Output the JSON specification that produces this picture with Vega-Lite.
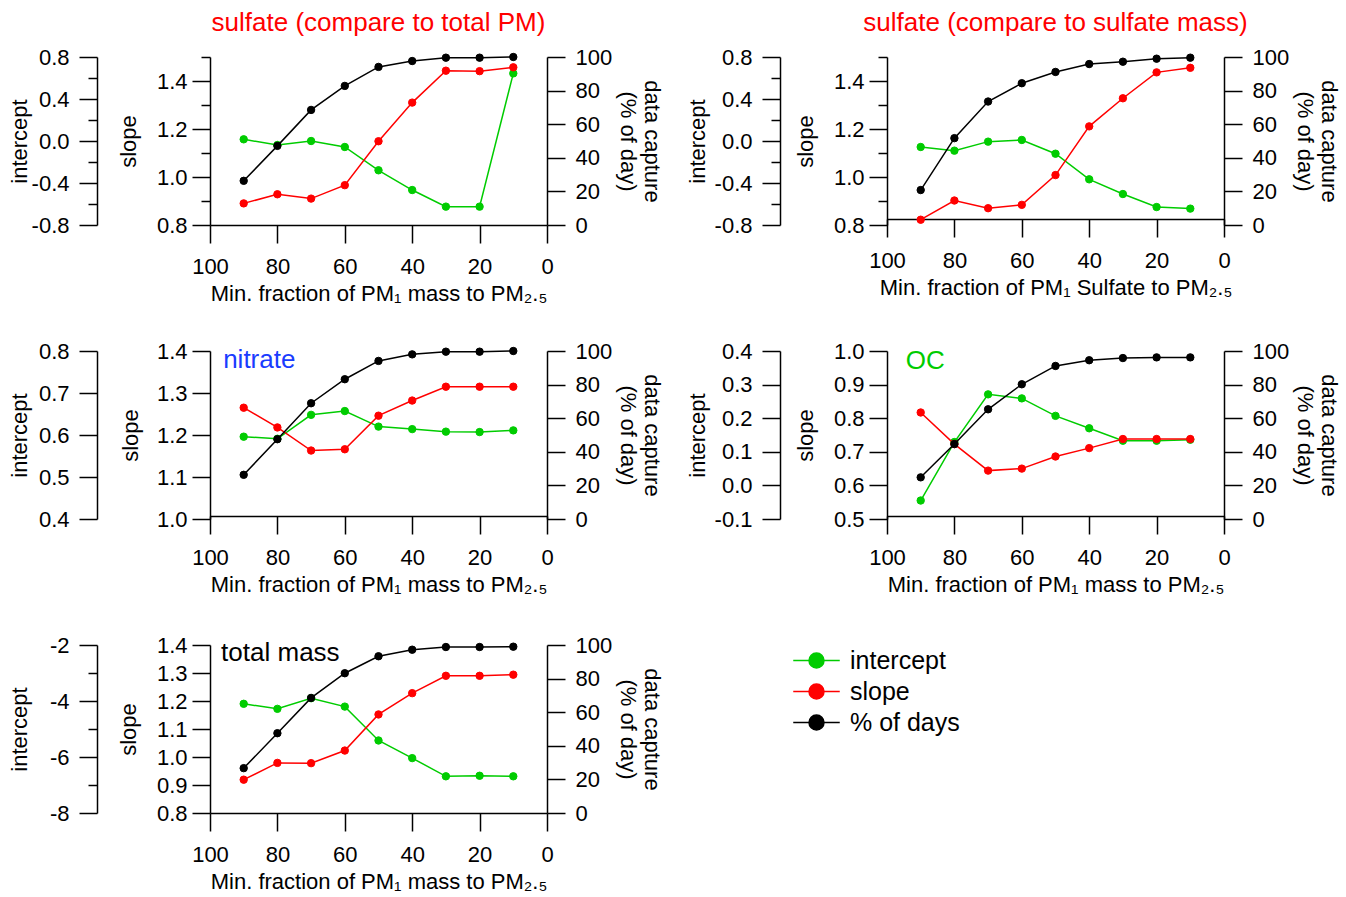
{
 "$schema": "https://vega.github.io/schema/vega-lite/v6.json",
 "background": "white",
 "padding": {"left": 8, "top": 10, "right": 5, "bottom": 5},
 "data": {"values": [
  {"p":"s1","x":90,"intercept":0.016,"slope":0.890,"days":26.3},
  {"p":"s1","x":80,"intercept":-0.038,"slope":0.928,"days":47.1},
  {"p":"s1","x":70,"intercept":0.0,"slope":0.910,"days":68.5},
  {"p":"s1","x":60,"intercept":-0.057,"slope":0.966,"days":82.8},
  {"p":"s1","x":50,"intercept":-0.279,"slope":1.149,"days":94.1},
  {"p":"s1","x":40,"intercept":-0.467,"slope":1.310,"days":97.6},
  {"p":"s1","x":30,"intercept":-0.625,"slope":1.443,"days":99.6},
  {"p":"s1","x":20,"intercept":-0.625,"slope":1.441,"days":99.6},
  {"p":"s1","x":10,"intercept":0.644,"slope":1.457,"days":100},
  {"p":"s2","x":90,"intercept":-0.057,"slope":0.822,"days":20.8},
  {"p":"s2","x":80,"intercept":-0.092,"slope":0.902,"days":51.7},
  {"p":"s2","x":70,"intercept":-0.006,"slope":0.870,"days":73.5},
  {"p":"s2","x":60,"intercept":0.010,"slope":0.884,"days":84.4},
  {"p":"s2","x":50,"intercept":-0.121,"slope":1.008,"days":91.1},
  {"p":"s2","x":40,"intercept":-0.365,"slope":1.211,"days":95.8},
  {"p":"s2","x":30,"intercept":-0.505,"slope":1.328,"days":97.2},
  {"p":"s2","x":20,"intercept":-0.629,"slope":1.436,"days":99.0},
  {"p":"s2","x":10,"intercept":-0.644,"slope":1.455,"days":99.6},
  {"p":"n","x":90,"intercept":0.596,"slope":1.265,"days":26.3},
  {"p":"n","x":80,"intercept":0.591,"slope":1.218,"days":47.5},
  {"p":"n","x":70,"intercept":0.648,"slope":1.163,"days":68.9},
  {"p":"n","x":60,"intercept":0.657,"slope":1.166,"days":83.2},
  {"p":"n","x":50,"intercept":0.620,"slope":1.246,"days":94.1},
  {"p":"n","x":40,"intercept":0.614,"slope":1.282,"days":98.0},
  {"p":"n","x":30,"intercept":0.608,"slope":1.315,"days":99.6},
  {"p":"n","x":20,"intercept":0.607,"slope":1.315,"days":99.6},
  {"p":"n","x":10,"intercept":0.611,"slope":1.315,"days":100},
  {"p":"oc","x":90,"intercept":-0.045,"slope":0.817,"days":24.8},
  {"p":"oc","x":80,"intercept":0.129,"slope":0.723,"days":44.6},
  {"p":"oc","x":70,"intercept":0.271,"slope":0.644,"days":65.3},
  {"p":"oc","x":60,"intercept":0.259,"slope":0.650,"days":80.2},
  {"p":"oc","x":50,"intercept":0.207,"slope":0.686,"days":91.1},
  {"p":"oc","x":40,"intercept":0.170,"slope":0.711,"days":94.5},
  {"p":"oc","x":30,"intercept":0.133,"slope":0.738,"days":95.8},
  {"p":"oc","x":20,"intercept":0.133,"slope":0.738,"days":96.2},
  {"p":"oc","x":10,"intercept":0.136,"slope":0.738,"days":96.2},
  {"p":"tm","x":90,"intercept":-4.10,"slope":0.919,"days":26.7},
  {"p":"tm","x":80,"intercept":-4.28,"slope":0.979,"days":47.5},
  {"p":"tm","x":70,"intercept":-3.90,"slope":0.978,"days":68.5},
  {"p":"tm","x":60,"intercept":-4.20,"slope":1.023,"days":83.2},
  {"p":"tm","x":50,"intercept":-5.41,"slope":1.152,"days":93.3},
  {"p":"tm","x":40,"intercept":-6.04,"slope":1.228,"days":97.2},
  {"p":"tm","x":30,"intercept":-6.69,"slope":1.290,"days":98.8},
  {"p":"tm","x":20,"intercept":-6.67,"slope":1.290,"days":98.8},
  {"p":"tm","x":10,"intercept":-6.69,"slope":1.294,"days":99.0}
 ]},
 "columns": 2,
 "spacing": {"row": 126, "column": 340},
 "bounds": "flush",
 "concat": [
   {"width": 337, "height": 168,
    "transform": [{"filter": "datum.p == 's1'"}],
    "title": {"text": "sulfate (compare to total PM)", "color": "#ff0000", "frame": "group", "anchor": "middle", "offset": 10},
    "encoding": {"x": {"field": "x", "type": "quantitative", "scale": {"domain": [0, 100], "reverse": true, "nice": false, "zero": false}, "axis": {"values": [0,20,40,60,80,100], "format": "d", "labelFlush": false, "tickSize": 18, "labelPadding": 13, "title": "Min. fraction of PM₁ mass to PM₂.₅", "titlePadding": 6, "offset": 0}}},
    "layer": [
     {"encoding": {"y": {"field": "intercept", "type": "quantitative", "scale": {"domain": [-0.8, 0.8], "nice": false, "zero": false}, "axis": {"orient": "left", "offset": 113, "values": [-0.8,-0.6,-0.4,-0.2,0,0.2,0.4,0.6,0.8], "format": ".1f", "labelExpr": "abs(round(datum.value*10)) % 4 == 0 ? replace(datum.label, '−', '-') : ''", "tickSize": {"condition": {"test": "abs(round(datum.value*10)) % 4 != 0", "value": 9}, "value": 18}, "labelPadding": 10, "title": "intercept", "titlePadding": 0}}},
      "layer": [
       {"mark": {"type": "line", "strokeWidth": 1.5}, "encoding": {"stroke": {"datum": "intercept", "type": "nominal", "scale": {"domain": ["intercept","slope","days"], "range": ["#00cc00","#ff0000","#000000"]}, "legend": {"title": null, "orient": "none", "legendX": 594, "legendY": 591, "symbolType": "M-3.1,0L-1,0M1,0L3.1,0M-1,0A1,1,0,1,1,1,0A1,1,0,1,1,-1,0Z", "symbolSize": 225, "symbolStrokeWidth": 1.5, "symbolOpacity": 1, "labelFontSize": 25, "labelColor": "#000000", "labelOffset": 21, "rowPadding": 5, "padding": 0, "labelExpr": "datum.label == 'days' ? '% of days' : datum.label"}}}},
       {"mark": {"type": "point", "shape": "circle", "filled": true, "size": 55, "strokeWidth": 1, "opacity": 1}, "encoding": {"fill": {"datum": "intercept", "type": "nominal", "scale": {"domain": ["intercept","slope","days"], "range": ["#00cc00","#ff0000","#000000"]}}, "stroke": {"datum": "intercept", "type": "nominal"}}}
      ]},
     {"encoding": {"y": {"field": "slope", "type": "quantitative", "scale": {"domain": [0.8, 1.5], "nice": false, "zero": false}, "axis": {"orient": "left", "offset": 0, "values": [0.8,0.9,1.0,1.1,1.2,1.3,1.4,1.5], "format": ".1f", "labelExpr": "round(datum.value*10) % 2 == 0 ? datum.label : ''", "tickSize": {"condition": {"test": "round(datum.value*10) % 2 != 0", "value": 9}, "value": 18}, "labelPadding": 5, "title": "slope", "titlePadding": 16}}},
      "layer": [
       {"mark": {"type": "line", "strokeWidth": 1.5}, "encoding": {"stroke": {"datum": "slope", "type": "nominal"}}},
       {"mark": {"type": "point", "shape": "circle", "filled": true, "size": 55, "strokeWidth": 1, "opacity": 1}, "encoding": {"fill": {"datum": "slope", "type": "nominal"}, "stroke": {"datum": "slope", "type": "nominal"}}}
      ]},
     {"encoding": {"y": {"field": "days", "type": "quantitative", "scale": {"domain": [0, 100], "nice": false, "zero": false}, "axis": {"orient": "right", "values": [0,20,40,60,80,100], "format": "d", "tickSize": 18, "labelPadding": 10, "title": ["data capture", "(% of day)"], "titlePadding": 4, "titleLineHeight": 24}}},
      "layer": [
       {"mark": {"type": "line", "strokeWidth": 1.5}, "encoding": {"stroke": {"datum": "days", "type": "nominal"}}},
       {"mark": {"type": "point", "shape": "circle", "filled": true, "size": 55, "strokeWidth": 1, "opacity": 1}, "encoding": {"fill": {"datum": "days", "type": "nominal"}, "stroke": {"datum": "days", "type": "nominal"}}}
      ]}
    ],
    "resolve": {"scale": {"y": "independent"}}
   },
   {"width": 337, "height": 168,
    "transform": [{"filter": "datum.p == 's2'"}],
    "title": {"text": "sulfate (compare to sulfate mass)", "color": "#ff0000", "frame": "group", "anchor": "middle", "offset": 10},
    "encoding": {"x": {"field": "x", "type": "quantitative", "scale": {"domain": [0, 100], "reverse": true, "nice": false, "zero": false}, "axis": {"values": [0,20,40,60,80,100], "format": "d", "labelFlush": false, "tickSize": 18, "labelPadding": 13, "title": "Min. fraction of PM₁ Sulfate to PM₂.₅", "titlePadding": 6, "offset": -6}}},
    "layer": [
     {"encoding": {"y": {"field": "intercept", "type": "quantitative", "scale": {"domain": [-0.8, 0.8], "nice": false, "zero": false}, "axis": {"orient": "left", "offset": 107, "values": [-0.8,-0.6,-0.4,-0.2,0,0.2,0.4,0.6,0.8], "format": ".1f", "labelExpr": "abs(round(datum.value*10)) % 4 == 0 ? replace(datum.label, '−', '-') : ''", "tickSize": {"condition": {"test": "abs(round(datum.value*10)) % 4 != 0", "value": 9}, "value": 18}, "labelPadding": 10, "title": "intercept", "titlePadding": 5}}},
      "layer": [
       {"mark": {"type": "line", "strokeWidth": 1.5}, "encoding": {"stroke": {"datum": "intercept", "type": "nominal"}}},
       {"mark": {"type": "point", "shape": "circle", "filled": true, "size": 55, "strokeWidth": 1, "opacity": 1}, "encoding": {"fill": {"datum": "intercept", "type": "nominal"}, "stroke": {"datum": "intercept", "type": "nominal"}}}
      ]},
     {"encoding": {"y": {"field": "slope", "type": "quantitative", "scale": {"domain": [0.8, 1.5], "nice": false, "zero": false}, "axis": {"orient": "left", "offset": 0, "values": [0.8,0.9,1.0,1.1,1.2,1.3,1.4,1.5], "format": ".1f", "labelExpr": "round(datum.value*10) % 2 == 0 ? datum.label : ''", "tickSize": {"condition": {"test": "round(datum.value*10) % 2 != 0", "value": 9}, "value": 18}, "labelPadding": 5, "title": "slope", "titlePadding": 16}}},
      "layer": [
       {"mark": {"type": "line", "strokeWidth": 1.5}, "encoding": {"stroke": {"datum": "slope", "type": "nominal"}}},
       {"mark": {"type": "point", "shape": "circle", "filled": true, "size": 55, "strokeWidth": 1, "opacity": 1}, "encoding": {"fill": {"datum": "slope", "type": "nominal"}, "stroke": {"datum": "slope", "type": "nominal"}}}
      ]},
     {"encoding": {"y": {"field": "days", "type": "quantitative", "scale": {"domain": [0, 100], "nice": false, "zero": false}, "axis": {"orient": "right", "values": [0,20,40,60,80,100], "format": "d", "tickSize": 18, "labelPadding": 10, "title": ["data capture", "(% of day)"], "titlePadding": 4, "titleLineHeight": 24}}},
      "layer": [
       {"mark": {"type": "line", "strokeWidth": 1.5}, "encoding": {"stroke": {"datum": "days", "type": "nominal"}}},
       {"mark": {"type": "point", "shape": "circle", "filled": true, "size": 55, "strokeWidth": 1, "opacity": 1}, "encoding": {"fill": {"datum": "days", "type": "nominal"}, "stroke": {"datum": "days", "type": "nominal"}}}
      ]}
    ],
    "resolve": {"scale": {"y": "independent"}}
   },
   {"width": 337, "height": 168,
    "transform": [{"filter": "datum.p == 'n'"}],
    "encoding": {"x": {"field": "x", "type": "quantitative", "scale": {"domain": [0, 100], "reverse": true, "nice": false, "zero": false}, "axis": {"values": [0,20,40,60,80,100], "format": "d", "labelFlush": false, "tickSize": 18, "labelPadding": 13, "title": "Min. fraction of PM₁ mass to PM₂.₅", "titlePadding": 6, "offset": -3}}},
    "layer": [
     {"encoding": {"y": {"field": "intercept", "type": "quantitative", "scale": {"domain": [0.4, 0.8], "nice": false, "zero": false}, "axis": {"orient": "left", "offset": 113, "values": [0.4,0.5,0.6,0.7,0.8], "format": ".1f", "tickSize": 18, "labelPadding": 10, "title": "intercept", "titlePadding": 7}}},
      "layer": [
       {"mark": {"type": "line", "strokeWidth": 1.5}, "encoding": {"stroke": {"datum": "intercept", "type": "nominal"}}},
       {"mark": {"type": "point", "shape": "circle", "filled": true, "size": 55, "strokeWidth": 1, "opacity": 1}, "encoding": {"fill": {"datum": "intercept", "type": "nominal"}, "stroke": {"datum": "intercept", "type": "nominal"}}}
      ]},
     {"encoding": {"y": {"field": "slope", "type": "quantitative", "scale": {"domain": [1.0, 1.4], "nice": false, "zero": false}, "axis": {"orient": "left", "offset": 0, "values": [1.0,1.1,1.2,1.3,1.4], "format": ".1f", "tickSize": 18, "labelPadding": 5, "title": "slope", "titlePadding": 14}}},
      "layer": [
       {"mark": {"type": "line", "strokeWidth": 1.5}, "encoding": {"stroke": {"datum": "slope", "type": "nominal"}}},
       {"mark": {"type": "point", "shape": "circle", "filled": true, "size": 55, "strokeWidth": 1, "opacity": 1}, "encoding": {"fill": {"datum": "slope", "type": "nominal"}, "stroke": {"datum": "slope", "type": "nominal"}}},
       {"transform": [{"filter": "datum.x == 90"}], "mark": {"type": "text", "align": "left", "baseline": "alphabetic", "fontSize": 26, "fill": "#1a3cff"}, "encoding": {"x": {"datum": 96.1}, "y": {"datum": 1.36}, "text": {"value": "nitrate"}}}
      ]},
     {"encoding": {"y": {"field": "days", "type": "quantitative", "scale": {"domain": [0, 100], "nice": false, "zero": false}, "axis": {"orient": "right", "values": [0,20,40,60,80,100], "format": "d", "tickSize": 18, "labelPadding": 10, "title": ["data capture", "(% of day)"], "titlePadding": 4, "titleLineHeight": 24}}},
      "layer": [
       {"mark": {"type": "line", "strokeWidth": 1.5}, "encoding": {"stroke": {"datum": "days", "type": "nominal"}}},
       {"mark": {"type": "point", "shape": "circle", "filled": true, "size": 55, "strokeWidth": 1, "opacity": 1}, "encoding": {"fill": {"datum": "days", "type": "nominal"}, "stroke": {"datum": "days", "type": "nominal"}}}
      ]}
    ],
    "resolve": {"scale": {"y": "independent"}}
   },
   {"width": 337, "height": 168,
    "transform": [{"filter": "datum.p == 'oc'"}],
    "encoding": {"x": {"field": "x", "type": "quantitative", "scale": {"domain": [0, 100], "reverse": true, "nice": false, "zero": false}, "axis": {"values": [0,20,40,60,80,100], "format": "d", "labelFlush": false, "tickSize": 18, "labelPadding": 13, "title": "Min. fraction of PM₁ mass to PM₂.₅", "titlePadding": 6, "offset": -3}}},
    "layer": [
     {"encoding": {"y": {"field": "intercept", "type": "quantitative", "scale": {"domain": [-0.1, 0.4], "nice": false, "zero": false}, "axis": {"orient": "left", "offset": 107, "values": [-0.1,0,0.1,0.2,0.3,0.4], "format": ".1f", "labelExpr": "replace(datum.label, '−', '-')", "tickSize": 18, "labelPadding": 10, "title": "intercept", "titlePadding": 5}}},
      "layer": [
       {"mark": {"type": "line", "strokeWidth": 1.5}, "encoding": {"stroke": {"datum": "intercept", "type": "nominal"}}},
       {"mark": {"type": "point", "shape": "circle", "filled": true, "size": 55, "strokeWidth": 1, "opacity": 1}, "encoding": {"fill": {"datum": "intercept", "type": "nominal"}, "stroke": {"datum": "intercept", "type": "nominal"}}}
      ]},
     {"encoding": {"y": {"field": "slope", "type": "quantitative", "scale": {"domain": [0.5, 1.0], "nice": false, "zero": false}, "axis": {"orient": "left", "offset": 0, "values": [0.5,0.6,0.7,0.8,0.9,1.0], "format": ".1f", "tickSize": 18, "labelPadding": 5, "title": "slope", "titlePadding": 16}}},
      "layer": [
       {"mark": {"type": "line", "strokeWidth": 1.5}, "encoding": {"stroke": {"datum": "slope", "type": "nominal"}}},
       {"mark": {"type": "point", "shape": "circle", "filled": true, "size": 55, "strokeWidth": 1, "opacity": 1}, "encoding": {"fill": {"datum": "slope", "type": "nominal"}, "stroke": {"datum": "slope", "type": "nominal"}}},
       {"transform": [{"filter": "datum.x == 90"}], "mark": {"type": "text", "align": "left", "baseline": "alphabetic", "fontSize": 26, "fill": "#00cc00"}, "encoding": {"x": {"datum": 94.4}, "y": {"datum": 0.946}, "text": {"value": "OC"}}}
      ]},
     {"encoding": {"y": {"field": "days", "type": "quantitative", "scale": {"domain": [0, 100], "nice": false, "zero": false}, "axis": {"orient": "right", "values": [0,20,40,60,80,100], "format": "d", "tickSize": 18, "labelPadding": 10, "title": ["data capture", "(% of day)"], "titlePadding": 4, "titleLineHeight": 24}}},
      "layer": [
       {"mark": {"type": "line", "strokeWidth": 1.5}, "encoding": {"stroke": {"datum": "days", "type": "nominal"}}},
       {"mark": {"type": "point", "shape": "circle", "filled": true, "size": 55, "strokeWidth": 1, "opacity": 1}, "encoding": {"fill": {"datum": "days", "type": "nominal"}, "stroke": {"datum": "days", "type": "nominal"}}}
      ]}
    ],
    "resolve": {"scale": {"y": "independent"}}
   },
   {"width": 337, "height": 168,
    "transform": [{"filter": "datum.p == 'tm'"}],
    "encoding": {"x": {"field": "x", "type": "quantitative", "scale": {"domain": [0, 100], "reverse": true, "nice": false, "zero": false}, "axis": {"values": [0,20,40,60,80,100], "format": "d", "labelFlush": false, "tickSize": 18, "labelPadding": 13, "title": "Min. fraction of PM₁ mass to PM₂.₅", "titlePadding": 6, "offset": 0}}},
    "layer": [
     {"encoding": {"y": {"field": "intercept", "type": "quantitative", "scale": {"domain": [-8, -2], "nice": false, "zero": false}, "axis": {"orient": "left", "offset": 113, "values": [-8,-7,-6,-5,-4,-3,-2], "format": "d", "labelExpr": "abs(datum.value) % 2 == 0 ? replace(datum.label, '−', '-') : ''", "tickSize": {"condition": {"test": "abs(datum.value) % 2 != 0", "value": 9}, "value": 18}, "labelPadding": 10, "title": "intercept", "titlePadding": 18}}},
      "layer": [
       {"mark": {"type": "line", "strokeWidth": 1.5}, "encoding": {"stroke": {"datum": "intercept", "type": "nominal"}}},
       {"mark": {"type": "point", "shape": "circle", "filled": true, "size": 55, "strokeWidth": 1, "opacity": 1}, "encoding": {"fill": {"datum": "intercept", "type": "nominal"}, "stroke": {"datum": "intercept", "type": "nominal"}}}
      ]},
     {"encoding": {"y": {"field": "slope", "type": "quantitative", "scale": {"domain": [0.8, 1.4], "nice": false, "zero": false}, "axis": {"orient": "left", "offset": 0, "values": [0.8,0.9,1.0,1.1,1.2,1.3,1.4], "format": ".1f", "tickSize": 18, "labelPadding": 5, "title": "slope", "titlePadding": 16}}},
      "layer": [
       {"mark": {"type": "line", "strokeWidth": 1.5}, "encoding": {"stroke": {"datum": "slope", "type": "nominal"}}},
       {"mark": {"type": "point", "shape": "circle", "filled": true, "size": 55, "strokeWidth": 1, "opacity": 1}, "encoding": {"fill": {"datum": "slope", "type": "nominal"}, "stroke": {"datum": "slope", "type": "nominal"}}},
       {"transform": [{"filter": "datum.x == 90"}], "mark": {"type": "text", "align": "left", "baseline": "alphabetic", "fontSize": 26, "fill": "#000000"}, "encoding": {"x": {"datum": 96.7}, "y": {"datum": 1.343}, "text": {"value": "total mass"}}}
      ]},
     {"encoding": {"y": {"field": "days", "type": "quantitative", "scale": {"domain": [0, 100], "nice": false, "zero": false}, "axis": {"orient": "right", "values": [0,20,40,60,80,100], "format": "d", "tickSize": 18, "labelPadding": 10, "title": ["data capture", "(% of day)"], "titlePadding": 4, "titleLineHeight": 24}}},
      "layer": [
       {"mark": {"type": "line", "strokeWidth": 1.5}, "encoding": {"stroke": {"datum": "days", "type": "nominal"}}},
       {"mark": {"type": "point", "shape": "circle", "filled": true, "size": 55, "strokeWidth": 1, "opacity": 1}, "encoding": {"fill": {"datum": "days", "type": "nominal"}, "stroke": {"datum": "days", "type": "nominal"}}}
      ]}
    ],
    "resolve": {"scale": {"y": "independent"}}
   }
 ],
 "config": {
  "font": "Liberation Sans",
  "view": {"stroke": null},
  "axis": {"labelFont": "Liberation Sans", "titleFont": "Liberation Sans", "labelFontSize": 22, "titleFontSize": 22, "titleFontWeight": "normal", "labelColor": "#000000", "titleColor": "#000000", "domainColor": "#000000", "tickColor": "#000000", "domainWidth": 1.5, "tickWidth": 1.5, "grid": false, "labelOverlap": false},
  "title": {"font": "Liberation Sans", "fontSize": 26, "fontWeight": "normal"},
  "legend": {"labelFont": "Liberation Sans"}
 }
}
